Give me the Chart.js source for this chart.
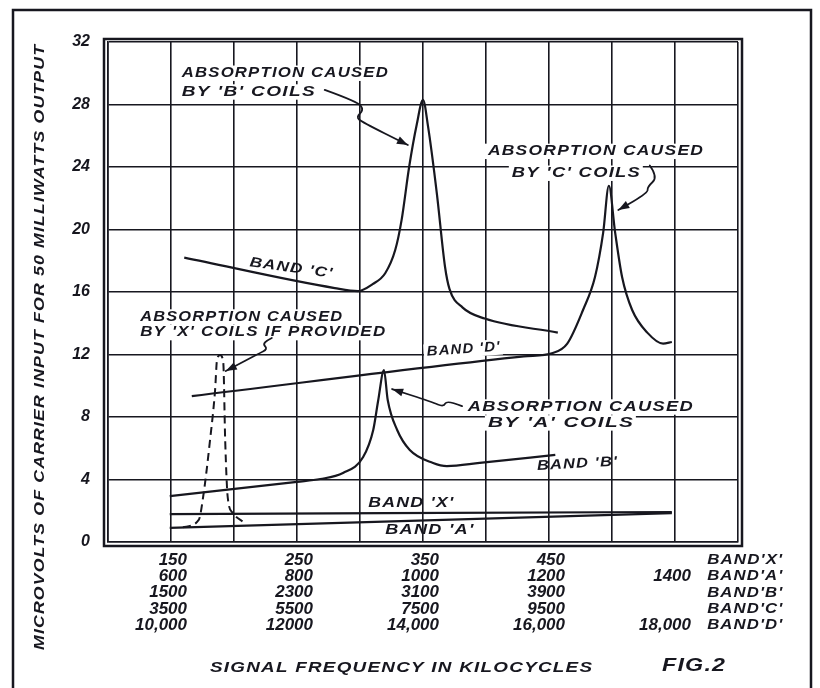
<!DOCTYPE html>
<html>
<head>
<meta charset="utf-8">
<script src="https://cdn.jsdelivr.net/npm/chart.js@4.4.1/dist/chart.umd.min.js"></script>
<style>
  html, body { margin: 0; padding: 0; background: #fff; }
  #wrap { width: 820px; height: 688px; }
</style>
</head>
<body>
<div id="wrap"><canvas id="chart" width="820" height="688"></canvas></div>
<script>
// Readings from Fig. 2: x is in grid divisions (0-10) along the frequency scale,
// y is microvolts of carrier input for 50 mW output.
const bandC = [[1.21, 18.2], [3.6, 16.25], [3.97, 16.06], [4.2, 16.5], [4.4, 17.2], [4.56, 18.7], [4.66, 20.6],
  [4.78, 24.0], [4.9, 26.7], [5.0, 28.3], [5.08, 26.6], [5.22, 22.3], [5.35, 17.6], [5.42, 16.2], [5.63, 15.0], [5.98, 14.3], [7.14, 13.4]];
const bandD = [[1.33, 9.34], [6.6, 11.88], [7.06, 12.1], [7.29, 12.7], [7.54, 14.85], [7.73, 16.96], [7.86, 19.8],
  [7.95, 22.8], [8.05, 19.8], [8.16, 16.96], [8.32, 14.85], [8.56, 13.4], [8.81, 12.7], [8.95, 12.8]];
const bandB = [[0.98, 2.94], [3.0, 3.85], [3.37, 4.03], [3.73, 4.42], [4.05, 5.44], [4.21, 7.17], [4.29, 9.09],
  [4.38, 11.0], [4.44, 9.09], [4.59, 7.17], [4.79, 5.89], [5.16, 5.06], [5.38, 4.86], [5.9, 5.06], [7.1, 5.57]];
const bandX = [[0.98, 1.79], [8.95, 1.92]];
const bandA = [[0.98, 0.9], [8.95, 1.85]];
const xCoils = [[1.19, 0.95], [1.44, 1.41], [1.51, 2.88], [1.62, 6.53], [1.7, 9.73], [1.73, 11.65], [1.78, 11.97],
  [1.83, 11.46], [1.86, 6.53], [1.9, 2.88], [1.98, 1.86], [2.17, 1.22]];

// Frequency scale, one column of readings per labelled grid line
const labelColumns = [1, 3, 5, 7, 9];
const bandXFreq = ['150', '250', '350', '450', ''];
const bandAFreq = ['600', '800', '1000', '1200', '1400'];
const bandBFreq = ['1500', '2300', '3100', '3900', ''];
const bandCFreq = ['3500', '5500', '7500', '9500', ''];
const bandDFreq = ['10,000', '12000', '14,000', '16,000', '18,000'];
const bandNames = ["BAND'X'", "BAND'A'", "BAND'B'", "BAND'C'", "BAND'D'"];

const ink = '#17171f';
const hand = '"Liberation Sans", Arial, sans-serif';

// text notes placed in data units (x,y = left end / middle), w = lettered width in px
const notes = [
  { text: 'ABSORPTION CAUSED', x: 1.17, y: 30.0, w: 206, back: true },
  { text: "BY 'B' COILS", x: 1.17, y: 28.8, w: 133, back: true },
  { text: 'ABSORPTION CAUSED', x: 6.03, y: 25.0, w: 215, back: true },
  { text: "BY 'C' COILS", x: 6.41, y: 23.6, w: 128, back: true },
  { text: 'ABSORPTION CAUSED', x: 0.51, y: 14.4, w: 202, back: true },
  { text: "BY 'X' COILS IF PROVIDED", x: 0.51, y: 13.4, w: 245, back: true },
  { text: 'ABSORPTION CAUSED', x: 5.71, y: 8.64, w: 225, back: true },
  { text: "BY 'A' COILS", x: 6.03, y: 7.62, w: 145, back: true },
  { text: "BAND 'C'", x: 2.25, y: 17.9, w: 83, rot: 8 },
  { text: "BAND 'D'", x: 5.06, y: 12.16, w: 73, rot: -4, back: true },
  { text: "BAND 'B'", x: 6.81, y: 4.86, w: 80, rot: -3 },
  { text: "BAND 'X'", x: 4.13, y: 2.5, w: 85 },
  { text: "BAND 'A'", x: 4.4, y: 0.77, w: 88 }
];

// hand drawn leaders from the notes, ending in an arrow head
const leaders = [
  [[3.44, 28.93], [3.97, 28.16], [4.06, 27.65], [3.94, 27.2], [4.03, 26.88], [4.76, 25.41]],
  [[8.6, 24.1], [8.73, 23.36], [8.56, 22.72], [8.57, 22.34], [8.1, 21.25]],
  [[2.6, 13.06], [2.44, 12.74], [2.54, 12.35], [2.38, 12.03], [1.87, 10.94]],
  [[5.62, 8.7], [5.38, 9.09], [5.33, 8.64], [5.14, 8.96], [4.51, 9.79]]
];

// wide hand lettering: a little tracking, then stretched to the measured width
function letter(ctx, text, x, y, w, size, rot, back) {
  ctx.save();
  ctx.translate(x, y);
  ctx.rotate((rot || 0) * Math.PI / 180);
  ctx.font = `italic bold ${size}px ${hand}`;
  ctx.letterSpacing = '1px';
  const natural = ctx.measureText(text).width - 1;
  const sx = w / natural;
  ctx.textAlign = 'left';
  ctx.textBaseline = 'middle';
  if (back) {
    ctx.fillStyle = '#fff';
    ctx.fillRect(-3, -size * 0.55, w + 6, size * 1.1);
  }
  ctx.scale(sx, 1);
  ctx.fillStyle = ink;
  ctx.fillText(text, 0, 0);
  ctx.restore();
}

const sketch = {
  id: 'sketch',
  afterDatasetsDraw(chart) {
    const { ctx, chartArea: a, scales: { x, y } } = chart;
    const X = v => x.getPixelForValue(v), Y = v => y.getPixelForValue(v);
    ctx.save();
    ctx.strokeStyle = ink;
    ctx.fillStyle = ink;

    // sheet frame and the heavy outer line of the plot's double border
    ctx.lineWidth = 2.5;
    ctx.strokeRect(13, 10, 798, 720);
    ctx.strokeRect(a.left - 4, a.top - 3, a.width + 8, a.height + 7);

    notes.forEach(n => letter(ctx, n.text, X(n.x), Y(n.y), n.w, 14, n.rot, n.back));

    ctx.lineWidth = 1.8;
    ctx.lineJoin = 'round';
    ctx.lineCap = 'round';
    leaders.forEach(l => {
      const p = l.map(([vx, vy]) => [X(vx), Y(vy)]);
      ctx.beginPath();
      ctx.moveTo(p[0][0], p[0][1]);
      for (let i = 1; i < p.length - 1; i++) {
        const mx = (p[i][0] + p[i + 1][0]) / 2, my = (p[i][1] + p[i + 1][1]) / 2;
        ctx.quadraticCurveTo(p[i][0], p[i][1], mx, my);
      }
      const end = p[p.length - 1], prev = p[p.length - 2];
      ctx.lineTo(end[0], end[1]);
      ctx.stroke();
      const ang = Math.atan2(end[1] - prev[1], end[0] - prev[0]);
      ctx.beginPath();
      ctx.moveTo(end[0], end[1]);
      ctx.lineTo(end[0] - 11 * Math.cos(ang) + 4 * Math.sin(ang), end[1] - 11 * Math.sin(ang) - 4 * Math.cos(ang));
      ctx.lineTo(end[0] - 11 * Math.cos(ang) - 4 * Math.sin(ang), end[1] - 11 * Math.sin(ang) + 4 * Math.cos(ang));
      ctx.closePath();
      ctx.fill();
    });

    // band key to the right of the frequency columns
    bandNames.forEach((t, i) => letter(ctx, t, X(9.51), a.bottom + 18 + i * 16.3, 75, 15));

    // axis titles
    letter(ctx, 'SIGNAL FREQUENCY IN KILOCYCLES', 210, 668, 382, 15);
    letter(ctx, 'FIG.2', 662, 666, 63, 19);
    ctx.save();
    ctx.translate(40, 650);
    ctx.rotate(-Math.PI / 2);
    letter(ctx, 'MICROVOLTS OF CARRIER INPUT FOR 50 MILLIWATTS OUTPUT', 0, 0, 605, 15);
    ctx.restore();
    ctx.restore();
  }
};

const line = (data, extra) => Object.assign({
  data: data.map(([x, y]) => ({ x, y })),
  borderColor: ink,
  borderWidth: 2.2,
  pointRadius: 0,
  fill: false,
  cubicInterpolationMode: 'monotone'
}, extra);

new Chart(document.getElementById('chart'), {
  type: 'line',
  data: {
    datasets: [
      line(bandC),
      line(bandD),
      line(bandB),
      line(bandX),
      line(bandA),
      line(xCoils, { borderDash: [8, 5], borderWidth: 2 })
    ]
  },
  options: {
    responsive: false,
    animation: false,
    events: [],
    layout: { padding: { left: 68, top: 42, right: 82, bottom: 46 } },
    plugins: { legend: { display: false }, tooltip: { enabled: false } },
    scales: {
      x: {
        type: 'linear',
        min: 0,
        max: 10,
        afterFit: s => { s.height = 100; },
        grid: { color: ink, lineWidth: 1.6, drawTicks: false },
        border: { color: ink, width: 1.6 },
        ticks: {
          stepSize: 1,
          autoSkip: false,
          maxRotation: 0,
          align: 'end',
          labelOffset: 16,
          padding: 10,
          color: ink,
          font: { family: hand, style: 'italic', weight: 'bold', size: 17, lineHeight: 0.96 },
          callback: v => {
            const i = labelColumns.indexOf(v);
            if (i < 0) return '';
            return [bandXFreq[i], bandAFreq[i], bandBFreq[i], bandCFreq[i], bandDFreq[i]];
          }
        }
      },
      y: {
        min: 0,
        max: 32,
        afterFit: s => { s.width = 40; },
        grid: { color: ink, lineWidth: 1.6, drawTicks: false },
        border: { color: ink, width: 1.6 },
        ticks: {
          stepSize: 4,
          padding: 18,
          color: ink,
          font: { family: hand, style: 'italic', weight: 'bold', size: 16 }
        }
      }
    }
  },
  plugins: [sketch]
});
</script>
</body>
</html>
